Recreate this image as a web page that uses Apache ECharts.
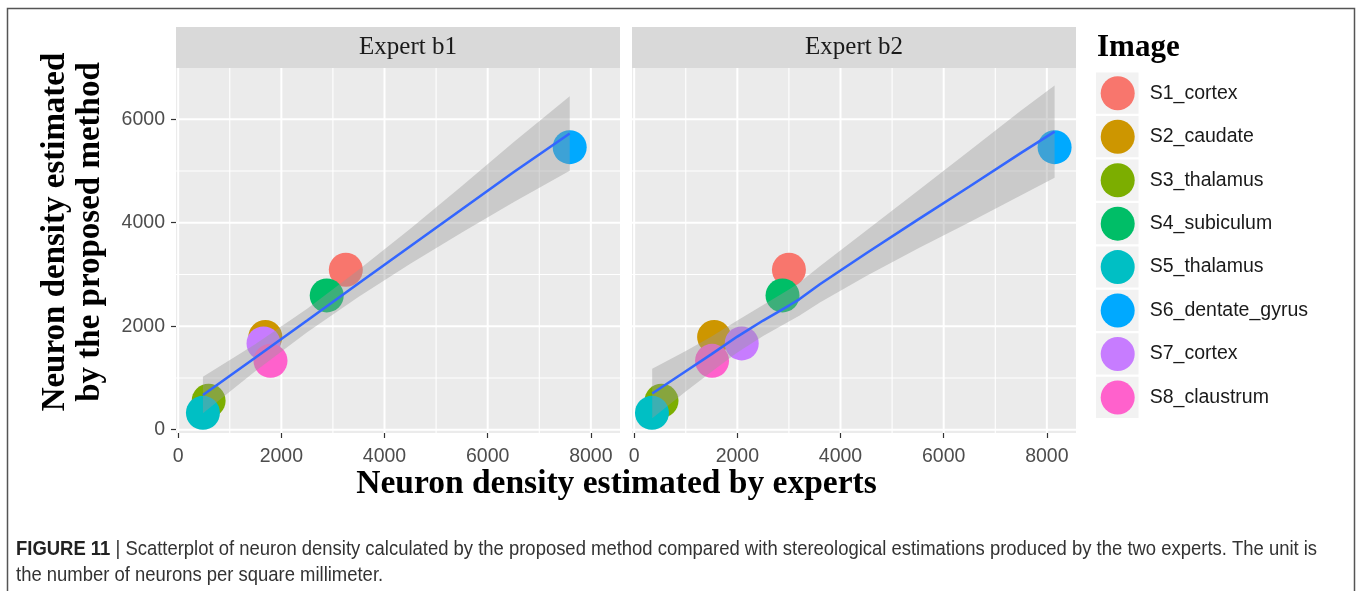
<!DOCTYPE html>
<html>
<head>
<meta charset="utf-8">
<script src="https://cdn.jsdelivr.net/npm/echarts@6/dist/echarts.min.js"></script>
<style>
html, body { margin: 0; padding: 0; background: #ffffff; }
#chart { width: 1357px; height: 591px; }
</style>
</head>
<body>
<div id="chart"></div>
<script>
// Samples and their colours
const samples = ['S1_cortex', 'S2_caudate', 'S3_thalamus', 'S4_subiculum',
                 'S5_thalamus', 'S6_dentate_gyrus', 'S7_cortex', 'S8_claustrum'];
const sampleColors = ['#F8766D', '#CD9600', '#7CAE00', '#00BE67',
                      '#00BFC4', '#00A9FF', '#C77CFF', '#FF61CC'];

// Neuron density (neurons / mm^2)
const proposedDensity = [3090, 1790, 560, 2595, 325, 5460, 1668, 1330];
const expertB1Density = [3250, 1690, 590, 2880, 480, 7590, 1655, 1790];
const expertB2Density = [3000, 1550, 530, 2876, 345, 8150, 2085, 1510];

const panelNames = ['Expert b1', 'Expert b2'];

// Axis ticks
const xTicks = [0, 2000, 4000, 6000, 8000];
const xMinorTicks = [1000, 3000, 5000, 7000];
const yTicks = [0, 2000, 4000, 6000];
const yMinorTicks = [1000, 3000, 5000];

// Smoothed fit with confidence band, Expert b1
const fitB1X  = [480, 1500, 2500, 3500, 4500, 5500, 6500, 7590];
const fitB1Y  = [670, 1395, 2110, 2830, 3545, 4260, 4975, 5724];
const fitB1Lo = [316, 1135, 1885, 2570, 3205, 3810, 4395, 5004];
const fitB1Hi = [1024, 1655, 2335, 3090, 3885, 4710, 5555, 6444];

// Smoothed fit with confidence band, Expert b2
const fitB2X  = [350, 1000, 1500, 2000, 2500, 3000, 3200, 3600, 4500, 5500, 6500, 7500, 8150];
const fitB2Y  = [700, 1130, 1460, 1800, 2110, 2400, 2520, 2810, 3410, 4060, 4700, 5350, 5760];
const fitB2Lo = [220, 740, 1120, 1490, 1810, 2090, 2200, 2460, 2970, 3500, 4010, 4530, 4870];
const fitB2Hi = [1180, 1520, 1800, 2110, 2410, 2710, 2840, 3160, 3850, 4620, 5390, 6170, 6650];

const captionLine1 = 'Scatterplot of neuron density calculated by the proposed method compared with stereological estimations produced by the two experts. The unit is';
const captionLine2 = 'the number of neurons per square millimeter.';

const chart = echarts.init(document.getElementById('chart'), null, { renderer: 'canvas' });

const SANS = '"Liberation Sans", Arial, sans-serif';
const SERIF = '"Liberation Serif", "Times New Roman", serif';
const X_RANGE = [-42, 8565];
const Y_RANGE = [-64, 6990];
const panelLeft = [176, 632];
const stripTextX = [408, 854];
const PANEL_TOP = 68, PANEL_W = 444, PANEL_H = 365;

const panelX = [expertB1Density, expertB2Density];
const fits = [
  { x: fitB1X, y: fitB1Y, lo: fitB1Lo, hi: fitB1Hi },
  { x: fitB2X, y: fitB2Y, lo: fitB2Lo, hi: fitB2Hi }
];

const gridLineData = [];
xTicks.forEach(v => gridLineData.push([v, 0, 1]));
xMinorTicks.forEach(v => gridLineData.push([v, 0, 0]));
yTicks.forEach(v => gridLineData.push([v, 1, 1]));
yMinorTicks.forEach(v => gridLineData.push([v, 1, 0]));

const plainNumber = v => String(v);
const grids = [], xAxes = [], yAxes = [], series = [];

for (let p = 0; p < 2; p++) {
  grids.push({
    left: panelLeft[p], top: PANEL_TOP, width: PANEL_W, height: PANEL_H,
    show: true, backgroundColor: '#ebebeb', borderWidth: 0
  });
  xAxes.push({
    type: 'value', gridIndex: p, min: X_RANGE[0], max: X_RANGE[1],
    axisLine: { show: false, onZero: false },
    axisTick: { show: true, customValues: xTicks, length: 5, lineStyle: { color: '#333333', width: 1.2 } },
    axisLabel: { customValues: xTicks, formatter: plainNumber, color: '#4d4d4d',
                 fontSize: 19.5, fontFamily: SANS, margin: 14 },
    splitLine: { show: false }
  });
  yAxes.push({
    type: 'value', gridIndex: p, min: Y_RANGE[0], max: Y_RANGE[1],
    axisLine: { show: false, onZero: false },
    axisTick: { show: p === 0, customValues: yTicks, length: 5, lineStyle: { color: '#333333', width: 1.2 } },
    axisLabel: { show: p === 0, customValues: yTicks, formatter: plainNumber, color: '#4d4d4d',
                 fontSize: 19.5, fontFamily: SANS, margin: 11 },
    splitLine: { show: false }
  });

  // panel grid lines
  series.push({
    type: 'custom', xAxisIndex: p, yAxisIndex: p, silent: true, z: 1,
    data: gridLineData,
    renderItem: function (params, api) {
      const v = api.value(0), kind = api.value(1), major = api.value(2);
      const cs = params.coordSys;
      const style = { stroke: '#ffffff', lineWidth: major ? 2 : 1.1 };
      if (kind === 0) {
        const x = api.coord([v, 0])[0];
        return { type: 'line', shape: { x1: x, y1: cs.y, x2: x, y2: cs.y + cs.height }, style };
      }
      const y = api.coord([0, v])[1];
      return { type: 'line', shape: { x1: cs.x, y1: y, x2: cs.x + cs.width, y2: y }, style };
    }
  });

  // sample points
  samples.forEach((name, i) => {
    series.push({
      type: 'scatter', name, xAxisIndex: p, yAxisIndex: p, z: 2,
      symbol: 'circle', symbolSize: 34,
      itemStyle: { color: sampleColors[i], opacity: 1 },
      emphasis: { disabled: true },
      data: [[panelX[p][i], proposedDensity[i]]]
    });
  });

  // confidence band
  const f = fits[p];
  series.push({
    type: 'custom', xAxisIndex: p, yAxisIndex: p, silent: true, z: 3, clip: true,
    data: [[f.x[0], f.y[0]]],
    renderItem: function (params, api) {
      const pts = [];
      for (let k = 0; k < f.x.length; k++) pts.push(api.coord([f.x[k], f.hi[k]]));
      for (let k = f.x.length - 1; k >= 0; k--) pts.push(api.coord([f.x[k], f.lo[k]]));
      return { type: 'polygon', shape: { points: pts }, style: { fill: '#999999', opacity: 0.4 } };
    }
  });

  // fitted line
  series.push({
    type: 'line', xAxisIndex: p, yAxisIndex: p, z: 4, silent: true,
    showSymbol: false, smooth: false,
    lineStyle: { color: '#3366FF', width: 2.6 },
    data: f.x.map((x, k) => [x, f.y[k]])
  });
}

const graphic = [
  // figure frame
  { type: 'rect', shape: { x: 7.5, y: 8.5, width: 1347, height: 600 },
    style: { fill: 'none', stroke: '#555555', lineWidth: 1.5 }, silent: true, z: 0 }
];

for (let p = 0; p < 2; p++) {
  graphic.push({ type: 'rect', shape: { x: panelLeft[p], y: 27, width: PANEL_W, height: 41 },
    style: { fill: '#d9d9d9' }, silent: true, z: 0 });
  graphic.push({ type: 'text', x: stripTextX[p], y: 47.5, silent: true, z: 1,
    style: { text: panelNames[p], font: '25px ' + SERIF, fill: '#1a1a1a',
             textAlign: 'center', textVerticalAlign: 'middle' } });
}

// legend key backgrounds
samples.forEach((s, i) => {
  graphic.push({ type: 'rect', shape: { x: 1096, y: 72.6 + 43.45 * i, width: 42.5, height: 41.2 },
    style: { fill: '#f2f2f2' }, silent: true, z: 0 });
});

graphic.push({ type: 'text', x: 1097, y: 47.5, silent: true,
  style: { text: 'Image', font: 'bold 31px ' + SERIF, fill: '#000000',
           textAlign: 'left', textVerticalAlign: 'middle' } });

// axis titles
graphic.push({ type: 'text', x: 72.5, y: 232, rotation: Math.PI / 2, silent: true,
  style: { text: 'Neuron density estimated\nby the proposed method', font: 'bold 33px ' + SERIF,
           fill: '#000000', textAlign: 'center', textVerticalAlign: 'middle', lineHeight: 35 } });
graphic.push({ type: 'text', x: 616.5, y: 484, silent: true,
  style: { text: 'Neuron density estimated by experts', font: 'bold 33.5px ' + SERIF,
           fill: '#000000', textAlign: 'center', textVerticalAlign: 'middle' } });

// caption (condensed sans)
const CAP_SIZE = 20.5, CAP_SCALE = 0.9;
graphic.push({ type: 'text', x: 16, y: 549, scaleX: CAP_SCALE, silent: true,
  style: { text: '{b|FIGURE 11} | ' + captionLine1, textVerticalAlign: 'middle',
           fontFamily: SANS, fontSize: CAP_SIZE, fill: '#333333',
           rich: { b: { fontFamily: SANS, fontSize: CAP_SIZE, fontWeight: 'bold', fill: '#222222' } } } });
graphic.push({ type: 'text', x: 16, y: 575, scaleX: CAP_SCALE, silent: true,
  style: { text: captionLine2, textVerticalAlign: 'middle', fontFamily: SANS, fontSize: CAP_SIZE, fill: '#333333' } });

chart.setOption({
  animation: false,
  backgroundColor: '#ffffff',
  grid: grids,
  xAxis: xAxes,
  yAxis: yAxes,
  legend: {
    data: samples, orient: 'vertical', left: 1100.7, top: 76.3,
    padding: 0, itemWidth: 34, itemHeight: 34, itemGap: 9.45,
    icon: 'circle', selectedMode: false, z: 10,
    textStyle: { fontSize: 19.5, color: '#1a1a1a', fontFamily: SANS, padding: [0, 0, 0, 10] }
  },
  graphic: graphic,
  series: series
});
</script>
</body>
</html>
